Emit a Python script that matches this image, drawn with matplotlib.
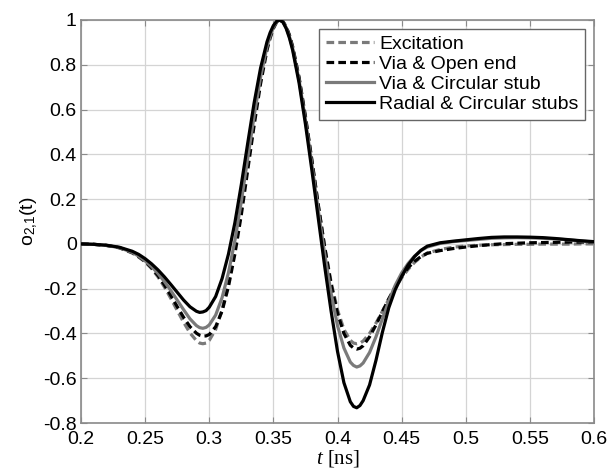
import matplotlib
matplotlib.use("Agg")
import matplotlib.pyplot as plt

t = [0.200, 0.210, 0.220, 0.230, 0.240, 0.245, 0.250, 0.255, 0.260, 0.265,
     0.270, 0.275, 0.280, 0.285, 0.290, 0.2925, 0.295, 0.2975, 0.300, 0.305,
     0.310, 0.315, 0.320, 0.325, 0.330, 0.335, 0.340, 0.345, 0.3475, 0.350,
     0.3525, 0.355, 0.3575, 0.360, 0.3625, 0.365, 0.370, 0.375, 0.380, 0.385,
     0.390, 0.395, 0.400, 0.405, 0.410, 0.4125, 0.415, 0.4175, 0.420, 0.425,
     0.430, 0.435, 0.440, 0.445, 0.450, 0.455, 0.460, 0.465, 0.470, 0.480,
     0.490, 0.500, 0.510, 0.520, 0.530, 0.540, 0.550, 0.560, 0.570, 0.580,
     0.590, 0.600]

excitation = [0.000, -0.002, -0.007, -0.018, -0.041, -0.059, -0.080, -0.110, -0.147, -0.192,
              -0.243, -0.297, -0.350, -0.398, -0.432, -0.443, -0.446, -0.443, -0.431, -0.382,
              -0.295, -0.171, -0.012, 0.172, 0.370, 0.564, 0.740, 0.879, 0.931, 0.969,
              0.992, 1.000, 0.992, 0.969, 0.931, 0.879, 0.740, 0.564, 0.370, 0.172,
              -0.012, -0.171, -0.295, -0.382, -0.431, -0.443, -0.446, -0.443, -0.434, -0.400,
              -0.354, -0.301, -0.247, -0.197, -0.152, -0.114, -0.083, -0.059, -0.041, -0.025,
              -0.015, -0.009, -0.006, -0.004, -0.003, -0.002, -0.002, -0.001, -0.001, -0.001,
              0.000, 0.000]

via_open = [0.000, -0.002, -0.007, -0.017, -0.039, -0.057, -0.078, -0.106, -0.141, -0.183,
            -0.230, -0.280, -0.328, -0.370, -0.399, -0.408, -0.412, -0.411, -0.405, -0.370,
            -0.300, -0.190, -0.045, 0.130, 0.330, 0.530, 0.715, 0.865, 0.920, 0.962,
            0.990, 1.000, 0.993, 0.970, 0.933, 0.882, 0.745, 0.570, 0.376, 0.175,
            -0.015, -0.180, -0.310, -0.400, -0.453, -0.465, -0.470, -0.466, -0.455, -0.415,
            -0.362, -0.303, -0.245, -0.192, -0.145, -0.107, -0.078, -0.057, -0.042, -0.030,
            -0.021, -0.014, -0.008, -0.003, 0.001, 0.003, 0.005, 0.006, 0.007, 0.008,
            0.008, 0.008]

via_circular = [0.000, -0.002, -0.007, -0.017, -0.038, -0.055, -0.076, -0.101, -0.132, -0.168,
                -0.208, -0.251, -0.294, -0.335, -0.365, -0.374, -0.377, -0.373, -0.362, -0.318,
                -0.240, -0.128, 0.015, 0.190, 0.382, 0.572, 0.745, 0.880, 0.929, 0.968,
                0.991, 1.000, 0.991, 0.966, 0.926, 0.874, 0.732, 0.553, 0.355, 0.150,
                -0.045, -0.220, -0.365, -0.465, -0.528, -0.543, -0.550, -0.545, -0.532, -0.485,
                -0.415, -0.335, -0.255, -0.185, -0.130, -0.088, -0.055, -0.030, -0.014, 0.002,
                0.010, 0.015, 0.020, 0.025, 0.027, 0.028, 0.027, 0.025, 0.022, 0.018,
                0.013, 0.008]

radial_circular = [0.000, -0.002, -0.006, -0.015, -0.033, -0.047, -0.066, -0.089, -0.116, -0.147,
                   -0.181, -0.216, -0.251, -0.281, -0.301, -0.306, -0.304, -0.298, -0.283, -0.235,
                   -0.155, -0.045, 0.095, 0.265, 0.450, 0.630, 0.785, 0.902, 0.944, 0.975,
                   0.994, 1.000, 0.990, 0.962, 0.920, 0.866, 0.720, 0.535, 0.330, 0.115,
                   -0.100, -0.300, -0.480, -0.620, -0.705, -0.726, -0.732, -0.722, -0.700, -0.630,
                   -0.520, -0.395, -0.285, -0.205, -0.145, -0.095, -0.057, -0.029, -0.010, 0.005,
                   0.012, 0.018, 0.024, 0.029, 0.031, 0.031, 0.030, 0.028, 0.024, 0.019,
                   0.014, 0.010]

labels = ["Excitation", "Via & Open end", "Via & Circular stub", "Radial & Circular stubs"]
xticks = [0.2, 0.25, 0.3, 0.35, 0.4, 0.45, 0.5, 0.55, 0.6]
xticklabels = ["0.2", "0.25", "0.3", "0.35", "0.4", "0.45", "0.5", "0.55", "0.6"]
yticks = [-0.8, -0.6, -0.4, -0.2, 0, 0.2, 0.4, 0.6, 0.8, 1]
yticklabels = ["-0.8", "-0.6", "-0.4", "-0.2", "0", "0.2", "0.4", "0.6", "0.8", "1"]

plt.rcParams['font.family'] = ['Liberation Sans', 'DejaVu Sans']
plt.rcParams['mathtext.fontset'] = 'custom'
plt.rcParams['mathtext.rm'] = 'Liberation Sans'
plt.rcParams['mathtext.it'] = 'Liberation Serif:italic'

fig = plt.figure(figsize=(6.1, 4.69), dpi=100)
ax = fig.add_axes([81/610, 1 - 423/469, (594-81)/610, (423-20)/469])

gray = "#7a7a7a"
lw = 2.3
ax.plot(t, excitation, color=gray, lw=lw, linestyle=(0, (2.4, 1.3)), label=labels[0], zorder=3)
ax.plot(t, via_open, color="black", lw=lw, linestyle=(0, (2.4, 1.3)), label=labels[1], zorder=4)
ax.plot(t, via_circular, color=gray, lw=lw, label=labels[2], zorder=5)
ax.plot(t, radial_circular, color="black", lw=lw, label=labels[3], zorder=6)

ax.set_xlim(0.2, 0.6)
ax.set_ylim(-0.8, 1.0)
ax.set_xticks(xticks)
ax.set_xticklabels(xticklabels)
ax.set_yticks(yticks)
ax.set_yticklabels(yticklabels)
ax.grid(True, color="#d4d4d4", lw=0.9, linestyle="-")
ax.set_axisbelow(True)
for s in ax.spines.values():
    s.set_color("#8a8a8a")
    s.set_linewidth(1.2)
ax.tick_params(direction="in", length=4, width=0.8, color="#8a8a8a",
               labelsize=14, top=True, right=True, pad=3)
ax.tick_params(axis="x", pad=6)

ax.set_ylabel(r"o$_{\mathrm{2{,}1}}$(t)", fontsize=14, labelpad=2)
ax.set_xlabel("$t$ [ns]", fontsize=15, labelpad=0)
ax.xaxis.label.set_fontfamily(["Liberation Serif", "DejaVu Serif"])

leg = ax.legend(loc="upper right", fontsize=14, handlelength=2.5, handletextpad=0.25,
                borderaxespad=0.45, labelspacing=0.12, fancybox=False, framealpha=1,
                edgecolor="#666666", borderpad=0.35)
leg.get_frame().set_linewidth(1.0)

fig.savefig("out.png", dpi=100)
